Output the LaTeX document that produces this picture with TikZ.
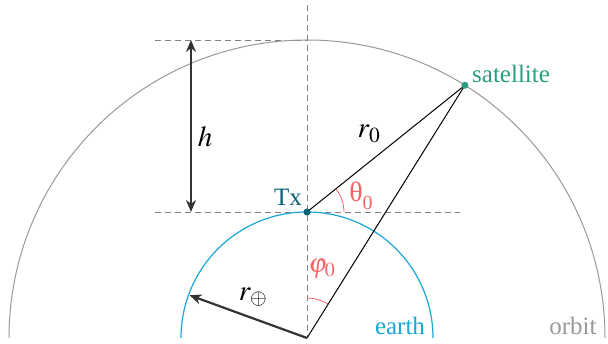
\documentclass[tikz,border=0pt]{standalone}
\usepackage{mathptmx}
\usepackage{fontspec}
\setmainfont{Liberation Serif}
\usetikzlibrary{arrows.meta,calc}
\definecolor{earthc}{HTML}{1AA6D6}
\definecolor{satc}{HTML}{2A9D80}
\definecolor{txc}{HTML}{0B6076}
\definecolor{angc}{HTML}{F26464}
\definecolor{orbc}{HTML}{999999}
\definecolor{arrc}{HTML}{333333}
\begin{document}
\begin{tikzpicture}[x=1pt,y=1pt,
  guide/.style={draw=gray, line width=0.9pt, dash pattern=on 6pt off 4pt},
  dimarrow/.style={arrc, line width=2.2pt, {Stealth[length=12pt,width=10pt]}-{Stealth[length=12pt,width=10pt]}},
  radarrow/.style={arrc, line width=2.2pt, -{Stealth[length=12pt,width=10pt]}},
  lbl/.style={font=\fontsize{25}{30}\selectfont, inner sep=0pt},
  mlbl/.style={font=\fontsize{29}{34}\selectfont, inner sep=0pt},
  dot/.style={circle, inner sep=0pt, minimum size=7pt}]
\useasboundingbox (0,0) rectangle (608,344);
% coordinates
\coordinate (O) at (307,6);
\coordinate (Tx) at (307,132);
\coordinate (Sat) at ($(O)+(58:298)$);
\coordinate (TopV) at (307,339);
\coordinate (TopL) at (155,304);
\coordinate (TopR) at (307,304);
\coordinate (MidL) at (155,132);
\coordinate (MidR) at (460,132);
\coordinate (HTop) at (191,304);
\coordinate (HBot) at (191,132);
\coordinate (REnd) at ($(O)+(160:125)$);
% guides
\draw[guide] (TopV) -- (O);
\draw[guide] (TopL) -- (TopR);
\draw[guide] (MidL) -- (MidR);
% orbit and earth
\draw[orbc, line width=1pt] ($(O)+(298,0)$) arc[start angle=0, end angle=180, radius=298];
\draw[earthc, line width=1.2pt] ($(O)+(126,0)$) arc[start angle=0, end angle=180, radius=126];
% lines
\draw[black, line width=1pt] (Tx) -- (Sat);
\draw[black, line width=1pt] (O) -- (Sat);
% angles
\draw[angc, line width=0.8pt] ($(Tx)+(37,0)$) arc[start angle=0, end angle=38.7, radius=37];
\draw[angc, line width=0.8pt] ($(O)+(58:40)$) arc[start angle=58, end angle=90, radius=40];
% arrows
\draw[dimarrow] (HTop) -- (HBot);
\draw[radarrow] (O) -- (REnd);
% dots
\node[dot, fill=txc] (txdot) at (Tx) {};
\node[dot, fill=satc] (satdot) at (Sat) {};
% labels
\node[mlbl] (hl) at (205,207) {$h$};
\node[mlbl] (r0l) at (369,210) {$r_0$};
\node[mlbl] (rel) at (253,47) {$r_\oplus$};
\node[font=\fontsize{28}{32}\selectfont, inner sep=0pt, text=angc] (th) at (361,148) {θ\raisebox{-0.3em}{\fontsize{20}{24}\selectfont 0}};
\node[font=\fontsize{27}{32}\selectfont, inner sep=0pt, text=angc] (ph) at (322,75) {$\varphi_0$};
\node[lbl, text=txc] (txl) at (288,146.5) {Tx};
\node[lbl, text=satc, anchor=west] (satl) at (472,270) {satellite};
\node[lbl, text=earthc, anchor=base] (earthl) at (400,9) {earth};
\node[lbl, text=orbc, anchor=base] (orbl) at (573,9) {orbit};
\end{tikzpicture}
\end{document}
